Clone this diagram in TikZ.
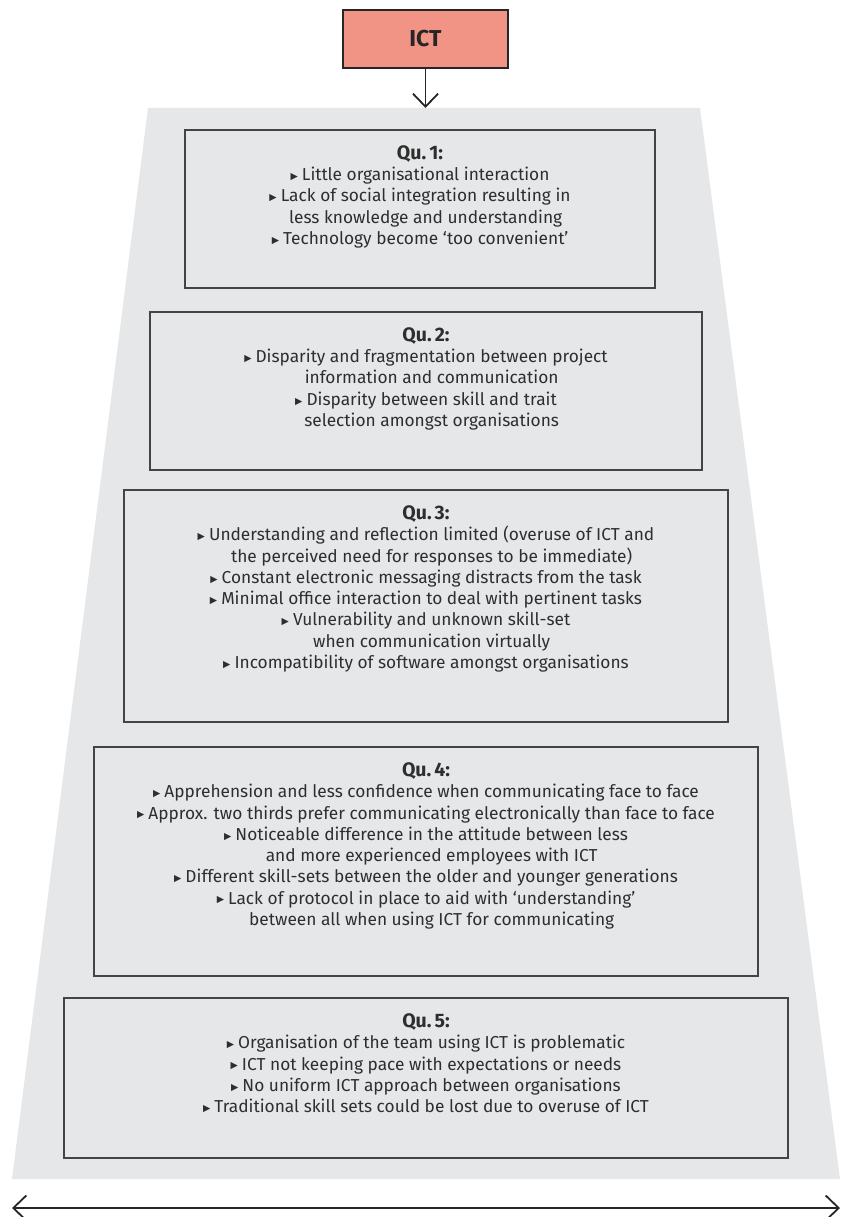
\documentclass[tikz,border=0pt]{standalone}
\usepackage{fontspec}
\setmainfont{Fira Sans}
\newfontfamily\symfont{DejaVu Sans}
\usetikzlibrary{arrows.meta}
\definecolor{trap}{HTML}{E6E7E8}
\definecolor{ictfill}{HTML}{F19385}
\definecolor{txt}{HTML}{2E2E2E}
\definecolor{edge}{HTML}{444444}
\newcommand\bul{{\symfont\fontsize{9.5}{9.5}\selectfont\raisebox{0.25ex}{▶}}\hspace{4pt}}
\newcommand\ind{\phantom{\bul}}
\newcommand\qtitle[1]{{\bfseries\fontsize{19.5}{21.3}\selectfont Qu.\hspace{3pt}#1:}}
\tikzset{
  qbox/.style={draw=edge, line width=1.3pt, rectangle, inner sep=0pt},
  qtext/.style={anchor=north, align=center, text=txt, inner sep=0pt, font=\fontsize{17.3}{21.3}\selectfont},
  conn/.style={draw=black!85, line width=1.8pt, -{Straight Barb[length=13pt,width=25pt,line width=1.8pt]}},
  dconn/.style={draw=black!85, line width=1.8pt, {Straight Barb[length=13pt,width=25pt,line width=1.8pt]}-{Straight Barb[length=13pt,width=25pt,line width=1.8pt]}},
}
\begin{document}
\begin{tikzpicture}[x=1pt,y=-1pt]
\useasboundingbox (0,0) rectangle (845,1217);
% trapezoid
\fill[trap] (148,108) -- (700,108) -- (840,1179) -- (12,1179) -- cycle;
\coordinate (traptop) at (425.5,108);
% ICT
\node[draw=black!85, line width=2pt, fill=ictfill, minimum width=165pt, minimum height=58pt, inner sep=0pt,
      font=\bfseries\fontsize{23}{26}\selectfont, text=black!85] (ict) at (425.5,39) {ICT};
\draw[conn] (ict.south) -- (traptop);
% boxes
\node[qbox, minimum width=470pt, minimum height=158pt] (b1) at (420,209) {};
\node[qbox, minimum width=552pt, minimum height=158pt] (b2) at (426,391) {};
\node[qbox, minimum width=604pt, minimum height=232pt] (b3) at (426,606) {};
\node[qbox, minimum width=664pt, minimum height=229pt] (b4) at (426,861.5) {};
\node[qbox, minimum width=724pt, minimum height=160pt] (b5) at (426,1078) {};
% texts
\node[qtext] (t1) at ([yshift=-16pt]b1.north) {\qtitle{1}\\
\bul Little organisational interaction\\
\bul Lack of social integration resulting in\\
\ind less knowledge and understanding\\
\bul Technology become ‘too convenient’};
\node[qtext] (t2) at ([yshift=-16pt]b2.north) {\qtitle{2}\\
\bul Disparity and fragmentation between project\\
\ind information and communication\\
\bul Disparity between skill and trait\\
\ind selection amongst organisations};
\node[qtext] (t3) at ([yshift=-16pt]b3.north) {\qtitle{3}\\
\bul Understanding and reflection limited (overuse of ICT and\\
\ind the perceived need for responses to be immediate)\\
\bul Constant electronic messaging distracts from the task\\
\bul Minimal office interaction to deal with pertinent tasks\\
\bul Vulnerability and unknown skill-set\\
\ind when communication virtually\\
\bul Incompatibility of software amongst organisations};
\node[qtext] (t4) at ([yshift=-16pt]b4.north) {\qtitle{4}\\
\bul Apprehension and less confidence when communicating face to face\\
\bul Approx. two thirds prefer communicating electronically than face to face\\
\bul Noticeable difference in the attitude between less\\
\ind and more experienced employees with ICT\\
\bul Different skill-sets between the older and younger generations\\
\bul Lack of protocol in place to aid with ‘understanding’\\
\ind between all when using ICT for communicating};
\node[qtext] (t5) at ([yshift=-16pt]b5.north) {\qtitle{5}\\
\bul Organisation of the team using ICT is problematic\\
\bul ICT not keeping pace with expectations or needs\\
\bul No uniform ICT approach between organisations\\
\bul Traditional skill sets could be lost due to overuse of ICT};
% bottom arrow
\coordinate (al) at (12,1208);
\coordinate (ar) at (840,1208);
\draw[dconn] (al) -- (ar);
\end{tikzpicture}
\end{document}
